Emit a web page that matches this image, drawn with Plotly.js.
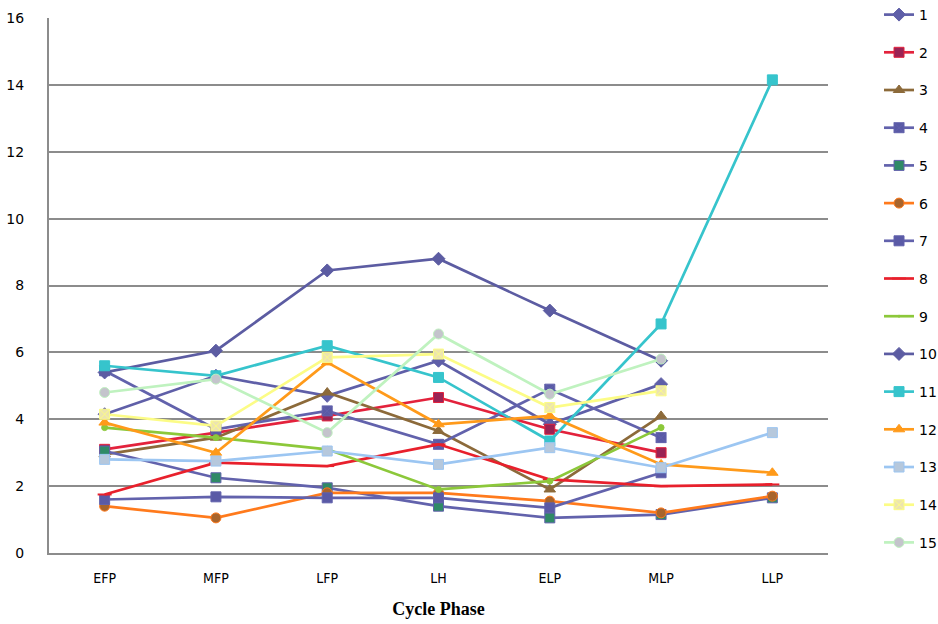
<!DOCTYPE html>
<html>
<head>
<meta charset="utf-8">
<script src="https://cdn.plot.ly/plotly-3.0.1.min.js"></script>
<style>html,body{margin:0;padding:0;background:#fff;}#chart{width:938px;height:624px;}</style>
</head>
<body>
<div id="chart"></div>
<script>
const phases = ["EFP", "MFP", "LFP", "LH", "ELP", "MLP", "LLP"];
const seriesNames = ["1","2","3","4","5","6","7","8","9","10","11","12","13","14","15"];

const s1  = [4.15, 5.3, 4.7, 5.75, 3.85, 5.05, null];
const s2  = [3.1, 3.6, 4.1, 4.65, 3.7, 3.0, null];
const s3  = [2.95, 3.45, 4.8, 3.65, 1.9, 4.1, null];
const s4  = [5.45, 3.7, 4.25, 3.25, 4.9, 3.45, null];
const s5  = [3.05, 2.25, 1.95, 1.4, 1.05, 1.15, 1.65];
const s6  = [1.4, 1.05, 1.8, 1.8, 1.55, 1.2, 1.7];
const s7  = [1.6, 1.68, 1.65, 1.65, 1.35, 2.4, null];
const s8  = [1.75, 2.7, 2.6, 3.25, 2.2, 2.0, 2.05];
const s9  = [3.75, 3.45, 3.1, 1.9, 2.15, 3.75, null];
const s10 = [5.4, 6.05, 8.45, 8.8, 7.25, 5.75, null];
const s11 = [5.6, 5.3, 6.2, 5.25, 3.35, 6.85, 14.15];
const s12 = [3.9, 3.0, 5.7, 3.85, 4.1, 2.65, 2.4];
const s13 = [2.8, 2.75, 3.05, 2.65, 3.15, 2.55, 3.6];
const s14 = [4.15, 3.8, 5.85, 5.95, 4.35, 4.85, null];
const s15 = [4.8, 5.2, 3.6, 6.55, 4.75, 5.8, null];

const yTicks = [0, 2, 4, 6, 8, 10, 12, 14, 16];

const values = [s1,s2,s3,s4,s5,s6,s7,s8,s9,s10,s11,s12,s13,s14,s15];
const styles = [
  {line:"#5f5fa8", mc:"#5f5fa8", sym:"diamond"},
  {line:"#e3223c", mc:"#9a2354", sym:"square"},
  {line:"#8c6a3a", mc:"#8c6a3a", sym:"triangle-up"},
  {line:"#6262ac", mc:"#5a5aa6", sym:"square-x"},
  {line:"#6262ac", mc:"#2f8a66", sym:"square"},
  {line:"#ff7a1c", mc:"#a8642c", sym:"circle"},
  {line:"#6262ac", mc:"#5a5aa6", sym:"square"},
  {line:"#e8202c", mc:"#e8202c", sym:"line-ew"},
  {line:"#8cc83a", mc:"#8cc83a", sym:"circle", size:0},
  {line:"#5c5ca2", mc:"#5c5ca2", sym:"diamond"},
  {line:"#36c4cc", mc:"#36c4cc", sym:"square"},
  {line:"#ff9a1a", mc:"#ff9a1a", sym:"triangle-up"},
  {line:"#9cc6f2", mc:"#b6c8dc", sym:"square"},
  {line:"#fcfc86", mc:"#ece4b0", sym:"square-x"},
  {line:"#bff2bf", mc:"#c4c4cc", sym:"circle"}
];

const traces = values.map((v, i) => ({
  type: "scatter",
  mode: "lines+markers",
  name: seriesNames[i],
  legendgroup: "g" + i,
  x: phases,
  y: v,
  connectgaps: false,
  line: {color: styles[i].line, width: 2.7},
  marker: {
    symbol: styles[i].sym,
    color: styles[i].mc,
    size: styles[i].size === undefined ? 10 : styles[i].size,
    line: {color: styles[i].sym === "line-ew" ? styles[i].mc : styles[i].line, width: styles[i].sym === "line-ew" ? 2 : 1}
  }
}));

const layout = {
  width: 938,
  height: 624,
  paper_bgcolor: "#ffffff",
  plot_bgcolor: "#ffffff",
  margin: {l: 49, r: 110, t: 18, b: 71, autoexpand: false},
  showlegend: true,
  legend: {
    x: 1.0655, xanchor: "left",
    y: 1.0355, yanchor: "top",
    font: {family: "DejaVu Sans, sans-serif", size: 14, color: "#000"},
    tracegroupgap: 16.5,
    itemwidth: 30,
    maxheight: 624,
    bgcolor: "rgba(0,0,0,0)"
  },
  xaxis: {
    type: "category",
    categoryarray: phases,
    range: [-0.5, 6.5],
    showgrid: false,
    showline: true,
    linecolor: "#8c8c8c",
    linewidth: 2,
    ticks: "",
    ticklabelstandoff: 11,
    tickfont: {family: "Liberation Sans Narrow, DejaVu Sans Condensed, sans-serif", size: 14, color: "#000"},
    title: {text: "Cycle Phase", font: {family: "Liberation Serif, serif", size: 18, color: "#000", weight: "bold"}, standoff: 18},
    zeroline: false
  },
  yaxis: {
    range: [0, 16],
    tickvals: yTicks,
    ticktext: yTicks.map(String),
    showgrid: true,
    gridcolor: "#8c8c8c",
    gridwidth: 2,
    showline: true,
    linecolor: "#8c8c8c",
    linewidth: 2,
    ticks: "",
    ticklabelstandoff: 20,
    tickfont: {family: "DejaVu Sans, sans-serif", size: 14, color: "#000"},
    zeroline: false
  }
};

Plotly.newPlot("chart", traces, layout, {displayModeBar: false, staticPlot: true});
</script>
</body>
</html>
